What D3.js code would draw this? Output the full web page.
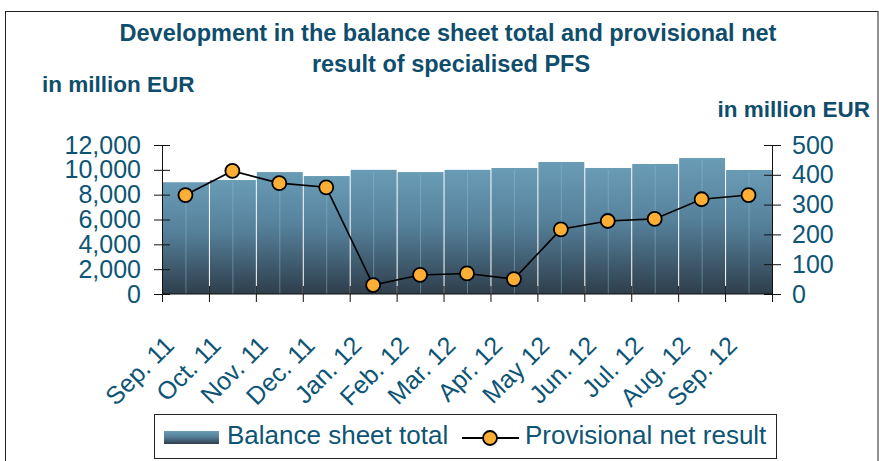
<!DOCTYPE html>
<html>
<head>
<meta charset="utf-8">
<script src="https://cdnjs.cloudflare.com/ajax/libs/d3/7.8.5/d3.min.js"></script>
<style>
  body { margin: 0; background: #fff; }
  text { font-family: "Liberation Sans", Arial, sans-serif; }
</style>
</head>
<body>
<script>
const months = ["Sep. 11", "Oct. 11", "Nov. 11", "Dec. 11", "Jan. 12", "Feb. 12", "Mar. 12",
  "Apr. 12", "May 12", "Jun. 12", "Jul. 12", "Aug. 12", "Sep. 12"];
const balanceTotal = [9000, 9180, 9820, 9500, 10000, 9820, 10000, 10150, 10630, 10150, 10470, 10950, 9990];
const netResult = [332, 413, 372, 358, 30, 64, 69, 50, 217, 245, 252, 318, 332];
const leftTicks = [0, 2000, 4000, 6000, 8000, 10000, 12000];
const rightTicks = [0, 100, 200, 300, 400, 500];

const width = 879;
const height = 461;
const textColor = "#0e5575";
const titleColor = "#0f4d6c";

const plotLeft = 162, plotRight = 772, plotTop = 145, plotBottom = 294;

const svg = d3.select("body")
  .append("svg")
  .attr("width", width)
  .attr("height", height);

const defs = svg.append("defs");
const grad = defs.append("linearGradient")
  .attr("id", "barGrad")
  .attr("x1", 0).attr("y1", 0).attr("x2", 0).attr("y2", 1);
grad.append("stop").attr("offset", "0%").attr("stop-color", "#6a9cb6");
grad.append("stop").attr("offset", "45%").attr("stop-color", "#55809a");
grad.append("stop").attr("offset", "100%").attr("stop-color", "#2e3e4b");

// outer frame
svg.append("rect")
  .attr("x", 5.5).attr("y", 11.5)
  .attr("width", 872.5).attr("height", 470)
  .attr("fill", "none")
  .attr("stroke", "#222")
  .attr("stroke-width", 1);

const x = d3.scaleBand()
  .domain(months)
  .range([plotLeft, plotRight])
  .padding(0);

const yLeft = d3.scaleLinear()
  .domain([0, 12000])
  .range([plotBottom, plotTop]);

const yRight = d3.scaleLinear()
  .domain([0, 500])
  .range([plotBottom, plotTop]);

// bars
const bars = svg.append("g").attr("id", "bar-group");
bars.selectAll("rect")
  .data(months)
  .enter()
  .append("rect")
  .attr("x", d => x(d) + 1)
  .attr("y", (d, i) => yLeft(balanceTotal[i]))
  .attr("width", x.bandwidth() - 1)
  .attr("height", (d, i) => plotBottom - yLeft(balanceTotal[i]))
  .attr("fill", "url(#barGrad)");

bars.selectAll("line")
  .data(months)
  .enter()
  .append("line")
  .attr("x1", d => x(d) + x.bandwidth() / 2 + 0.5)
  .attr("x2", d => x(d) + x.bandwidth() / 2 + 0.5)
  .attr("y1", (d, i) => yLeft(balanceTotal[i]) + 2)
  .attr("y2", plotBottom)
  .attr("stroke", "#8fc0d6")
  .attr("stroke-opacity", 0.45)
  .attr("stroke-width", 1);

// left axis
const axL = svg.append("g")
  .attr("transform", `translate(${plotLeft},0)`)
  .call(d3.axisLeft(yLeft).tickValues(leftTicks).tickSize(8).tickSizeOuter(0)
    .tickFormat(d3.format(",")).tickPadding(13));
axL.selectAll(".tick line").attr("x1", 8);

// right axis
const axR = svg.append("g")
  .attr("transform", `translate(${plotRight},0)`)
  .call(d3.axisRight(yRight).tickValues(rightTicks).tickSize(9).tickSizeOuter(0).tickPadding(11));
axR.selectAll(".tick line").attr("x1", -8);

// x axis with ticks at band edges
const axX = svg.append("g").attr("transform", `translate(0,${plotBottom})`);
axX.append("line")
  .attr("x1", plotLeft).attr("x2", plotRight)
  .attr("stroke", "#111");
axX.selectAll(".edge")
  .data(d3.range(months.length + 1))
  .enter()
  .append("line")
  .attr("class", "edge")
  .attr("x1", i => plotLeft + i * x.step() + 0.5)
  .attr("x2", i => plotLeft + i * x.step() + 0.5)
  .attr("y1", -8).attr("y2", 8)
  .attr("stroke", "#111");
axX.selectAll("text")
  .data(months)
  .enter()
  .append("text")
  .attr("transform", d => `translate(${x(d) + x.bandwidth() / 2 - 10},53) rotate(-45)`)
  .attr("text-anchor", "end")
  .attr("font-size", 25)
  .attr("fill", textColor)
  .text(d => d);

[axL, axR].forEach(ax => {
  ax.select(".domain").attr("stroke", "#111");
  ax.selectAll(".tick line").attr("stroke", "#111");
  ax.selectAll(".tick text")
    .attr("font-size", 25)
    .attr("font-family", "'Liberation Sans', Arial, sans-serif")
    .attr("fill", textColor);
});

// line series
const line = d3.line()
  .x(d => x(d) + x.bandwidth() / 2)
  .y((d, i) => yRight(netResult[i]));

svg.append("path")
  .datum(months)
  .attr("d", line)
  .attr("fill", "none")
  .attr("stroke", "#000")
  .attr("stroke-width", 1.6);

svg.append("g")
  .selectAll("circle")
  .data(months)
  .enter()
  .append("circle")
  .attr("cx", d => x(d) + x.bandwidth() / 2)
  .attr("cy", (d, i) => yRight(netResult[i]))
  .attr("r", 7)
  .attr("fill", "#fdae35")
  .attr("stroke", "#000")
  .attr("stroke-width", 1.8);

// titles
const title = svg.append("text")
  .attr("text-anchor", "middle")
  .attr("font-size", 23.5)
  .attr("font-weight", "bold")
  .attr("fill", titleColor);
title.append("tspan").attr("x", 448).attr("y", 41)
  .text("Development in the balance sheet total and provisional net");
title.append("tspan").attr("x", 451).attr("y", 72)
  .text("result of specialised PFS");

svg.append("text")
  .attr("x", 42).attr("y", 92)
  .attr("font-size", 22.5)
  .attr("font-weight", "bold")
  .attr("fill", titleColor)
  .text("in million EUR");

svg.append("text")
  .attr("x", 870).attr("y", 117)
  .attr("text-anchor", "end")
  .attr("font-size", 22.5)
  .attr("font-weight", "bold")
  .attr("fill", titleColor)
  .text("in million EUR");

// legend
const legend = svg.append("g");
legend.append("rect")
  .attr("x", 154.5).attr("y", 414.5)
  .attr("width", 622).attr("height", 44)
  .attr("fill", "#fff")
  .attr("stroke", "#222");
legend.append("rect")
  .attr("x", 164).attr("y", 431)
  .attr("width", 55).attr("height", 13)
  .attr("fill", "url(#barGrad)");
legend.append("text")
  .attr("x", 227).attr("y", 444)
  .attr("font-size", 26)
  .attr("fill", textColor)
  .text("Balance sheet total");
legend.append("line")
  .attr("x1", 462).attr("x2", 519)
  .attr("y1", 438).attr("y2", 438)
  .attr("stroke", "#000")
  .attr("stroke-width", 1.8);
legend.append("circle")
  .attr("cx", 490).attr("cy", 438).attr("r", 7)
  .attr("fill", "#fdae35")
  .attr("stroke", "#000")
  .attr("stroke-width", 1.8);
legend.append("text")
  .attr("x", 525).attr("y", 444)
  .attr("font-size", 26)
  .attr("fill", textColor)
  .text("Provisional net result");
</script>
</body>
</html>
